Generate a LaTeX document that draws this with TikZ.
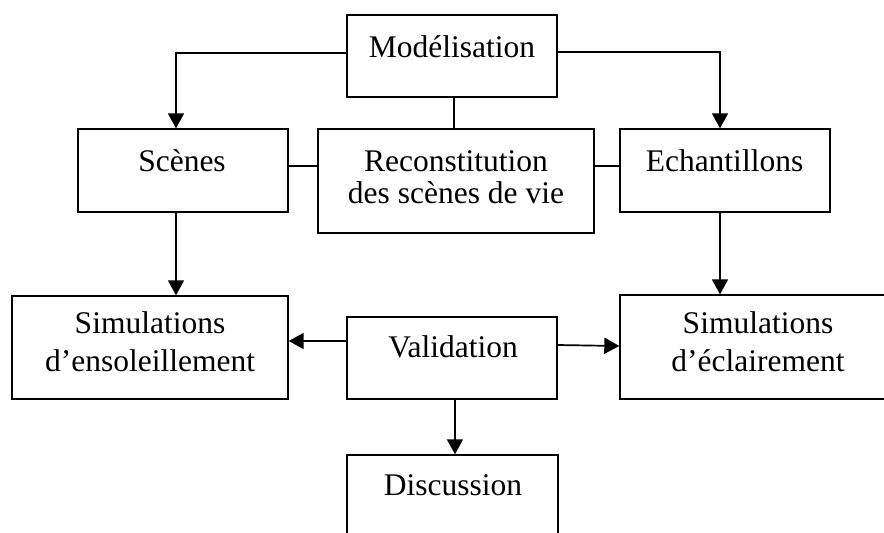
\documentclass[tikz,border=0pt]{standalone}
\usepackage{fontspec}
\setmainfont{Liberation Serif}
\usetikzlibrary{arrows.meta}
\begin{document}
\begin{tikzpicture}[x=1pt,y=-1pt,
  box/.style={draw,line width=1.4pt,inner sep=0pt,rectangle},
  lbl/.style={inner sep=0pt,align=center,anchor=base,font=\fontsize{31.5}{36}\selectfont},
  arr/.style={line width=1.7pt,-{Triangle[length=15pt,width=16pt]}},
  plain/.style={line width=1.4pt}]
\useasboundingbox (0,0) rectangle (884,533);
\clip (0,0) rectangle (884,533);
% boxes
\node[box,minimum width=210pt,minimum height=82pt] (mod) at (452,56) {};
\node[box,minimum width=276pt,minimum height=104pt] (rec) at (456,181) {};
\node[box,minimum width=210pt,minimum height=83pt] (sce) at (183,170.5) {};
\node[box,minimum width=210pt,minimum height=83pt] (ech) at (725,170.5) {};
\node[box,minimum width=276pt,minimum height=103pt] (sens) at (150,347.5) {};
\node[box,minimum width=210pt,minimum height=82pt] (val) at (452,358) {};
\node[box,minimum width=272pt,minimum height=104pt] (secl) at (756,347) {};
\node[box,minimum width=211pt,minimum height=90pt] (dis) at (452.5,500) {};
% labels
\node[lbl] (tmod) at (452,57) {Modélisation};
\node[lbl,font=\fontsize{31.5}{31.6}\selectfont] (trec) at (456,203) {Reconstitution\\des scènes de vie};
\node[lbl] (tsce) at (182,171) {Scènes};
\node[lbl] (tech) at (724.5,171) {Echantillons};
\node[lbl,font=\fontsize{31.5}{37.4}\selectfont] (tsens) at (150,371) {Simulations\\d’ensoleillement};
\node[lbl] (tval) at (453,357) {Validation};
\node[lbl,font=\fontsize{31.5}{37.4}\selectfont] (tsecl) at (758,371) {Simulations\\d’éclairement};
\node[lbl] (tdis) at (453,495) {Discussion};
% helper coordinates
\coordinate (xl) at (176,53);
\coordinate (xr) at (720,52);
\coordinate (xm) at (454,0);
\coordinate (xv) at (455,0);
\coordinate (ys) at (0,166);
\coordinate (ya) at (0,341);
\coordinate (yb) at (0,345);
% connectors
\draw[arr] (mod.west |- xl) -| (sce.north -| xl);
\draw[arr] (mod.east |- xr) -| (ech.north -| xr);
\draw[plain] (mod.south -| xm) -- (rec.north -| xm);
\draw[plain] (sce.east |- ys) -- (rec.west |- ys);
\draw[plain] (rec.east |- ys) -- (ech.west |- ys);
\draw[arr] (sce.south -| xl) -- (sens.north -| xl);
\draw[arr] (ech.south -| xr) -- (secl.north -| xr);
\draw[arr] (val.west |- ya) -- (sens.east |- ya);
\draw[arr] (val.east |- yb) -- ([yshift=-1pt]secl.west |- yb);
\draw[arr] (val.south -| xv) -- (dis.north -| xv);
\end{tikzpicture}
\end{document}
